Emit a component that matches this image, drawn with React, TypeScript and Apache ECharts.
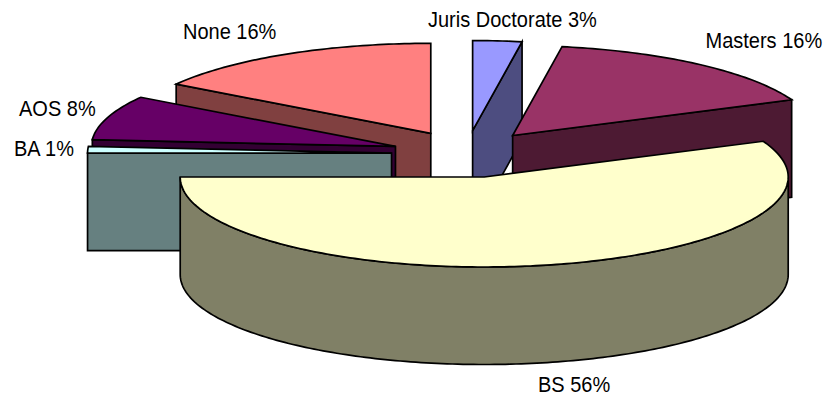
import React, { useEffect, useRef } from "react";
import * as echarts from "echarts";

const categories = ["Juris Doctorate", "Masters", "BS", "BA", "AOS", "None"];
const values = [2.6, 15.9, 56.5, 1.2, 8.0, 15.8];
const labels = ["Juris Doctorate 3%", "Masters 16%", "BS 56%", "BA 1%", "AOS 8%", "None 16%"];
const topColors = ["#9999FF", "#993366", "#FFFFCC", "#CCFFFF", "#660066", "#FF8080"];
const wallColors = ["#4D4D80", "#4D1A33", "#808066", "#668080", "#330033", "#804040"];
const drawOrder = [1, 2, 5, 4, 3, 0];
const nudgeX = [0, 0, 2.5, 0, 0, 0];
const labelX = [428, 705.5, 538, 14, 19, 183];
const labelY = [20, 41, 385, 149, 109, 32];

const CX = 466.5, CY = 154, EX = 75, EY = 23.5, A = 304, B = 90, DEPTH = 97.5;
const rad = (d: number) => (d * Math.PI) / 180;

function renderItem(params: any, api: any) {
  const i = params.dataIndex;
  const total = values.reduce((s, v) => s + v, 0);
  const before = values.slice(0, i).reduce((s, v) => s + v, 0);
  const t0 = (before / total) * 360;
  const t1 = t0 + (api.value(0) / total) * 360;
  const mid = (t0 + t1) / 2;
  const ax = CX + EX * Math.sin(rad(mid)) + nudgeX[i];
  const ay = CY - EY * Math.cos(rad(mid));
  const pt = (t: number, dz = 0): [number, number] => [ax + A * Math.sin(rad(t)), ay - B * Math.cos(rad(t)) + dz];
  const arcPts = (a: number, b: number, dz = 0) => {
    const n = Math.max(2, Math.ceil(Math.abs(b - a)));
    const out: [number, number][] = [];
    for (let k = 0; k <= n; k++) out.push(pt(a + ((b - a) * k) / n, dz));
    return out;
  };
  const poly = (pts: [number, number][], fill: string, z: number) => ({
    type: "polygon",
    shape: { points: pts },
    z2: drawOrder[i] * 10 + z,
    style: { fill, stroke: "#000", lineWidth: 1.7, lineJoin: "miter", miterLimit: 4 },
  });
  const children: any[] = [];
  const norm = (t: number) => ((t % 360) + 360) % 360;
  if (norm(t1) > 0 && norm(t1) < 180) {
    const p = pt(t1);
    children.push(poly([[ax, ay], p, [p[0], p[1] + DEPTH], [ax, ay + DEPTH]], wallColors[i], 0));
  }
  if (norm(t0) > 180) {
    const p = pt(t0);
    children.push(poly([[ax, ay], p, [p[0], p[1] + DEPTH], [ax, ay + DEPTH]], wallColors[i], 1));
  }
  const r0 = Math.max(t0, 90), r1 = Math.min(t1, 270);
  if (r1 > r0) {
    children.push(poly([...arcPts(r0, r1), ...arcPts(r1, r0, DEPTH)], wallColors[i], 2));
  }
  children.push(poly([[ax, ay], ...arcPts(t0, t1)], topColors[i], 3));
  children.push({
    type: "text",
    z2: 100,
    x: labelX[i],
    y: labelY[i],
    scaleY: 1.14,
    style: {
      text: labels[i],
      fill: "#000",
      font: '20px "Liberation Sans", Arial, sans-serif',
      verticalAlign: "middle",
      align: "left",
    },
  });
  return { type: "group", children };
}

export default function App() {
  const ref = useRef<HTMLDivElement>(null);
  useEffect(() => {
    const chart = echarts.init(ref.current!, undefined, { renderer: "svg" });
    chart.setOption({
      animation: false,
      backgroundColor: "#fff",
      series: [
        {
          type: "custom",
          coordinateSystem: "none",
          renderItem,
          data: categories.map((name, i) => ({ name, value: [values[i]] })),
          silent: true,
        },
      ],
    });
    return () => chart.dispose();
  }, []);
  return <div ref={ref} style={{ position: "absolute", left: 0, top: 0, width: 830, height: 402 }} />;
}
